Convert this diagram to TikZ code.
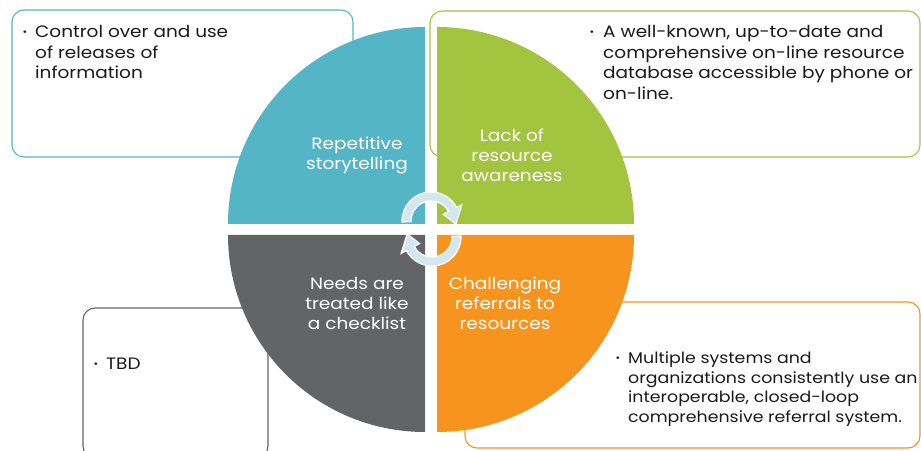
\documentclass[tikz,border=0pt]{standalone}
\usepackage{fontspec}
\setmainfont{Poppins}[FakeStretch=1.12]
\definecolor{cteal}{HTML}{54B5C6}
\definecolor{cgreen}{HTML}{A2C43E}
\definecolor{corange}{HTML}{F7941D}
\definecolor{cgray}{HTML}{636466}
\definecolor{carrow}{HTML}{D5E7EE}
\definecolor{txt}{HTML}{1A1A1A}
\begin{document}
\begin{tikzpicture}[x=1pt,y=1pt,
  cbox/.style={rounded corners=12pt, line width=1.1pt, fill=white},
  boxtext/.style={anchor=north west, inner sep=0pt, align=left, text=txt, font=\fontsize{16.5}{20.5}\selectfont},
  bul/.style={inner sep=0pt, text=txt, font=\fontsize{10}{10}\selectfont},
  qlabel/.style={align=center, text=white, inner sep=0pt, font=\fontsize{16.5}{20}\selectfont},
  circarrow/.style={fill=carrow, draw=white, line width=1.2pt, line join=miter}
]
\useasboundingbox (0,0) rectangle (921,450);
% outline boxes
\draw[cbox, draw=cteal] (12,293) rectangle (353,440);
\draw[cbox, draw=cgreen] (430,293) rectangle (920,439);
\draw[cbox, draw=corange] (465,2) rectangle (920,148);
\draw[cbox, draw=cgray] (83,-8) rectangle (268,142);
% quadrants
\fill[cteal] (425,226) -- (228,226) arc[start angle=180, end angle=90, radius=197] -- cycle;
\fill[cgreen] (437,226) -- (437,423) arc[start angle=90, end angle=0, radius=197] -- cycle;
\fill[cgray] (425,215) -- (425,18) arc[start angle=270, end angle=180, radius=197] -- cycle;
\fill[corange] (437,215) -- (634,215) arc[start angle=0, end angle=-90, radius=197] -- cycle;
% circular arrows
\begin{scope}[shift={(431,229)}]
\path[circarrow] (182:29) arc[start angle=182, end angle=28, radius=29] -- (28:35) -- (-7:25) -- (28:14) -- (28:20) arc[start angle=28, end angle=182, radius=20] -- cycle;
\end{scope}
\begin{scope}[shift={(432,213)}, rotate=180]
\path[circarrow] (182:29) arc[start angle=182, end angle=28, radius=29] -- (28:35) -- (-7:25) -- (28:14) -- (28:20) arc[start angle=28, end angle=182, radius=20] -- cycle;
\end{scope}
% quadrant labels
\node[qlabel] (q1) at (357,295) {Repetitive\\storytelling};
\node[qlabel] (q2) at (512,294.5) {Lack of\\resource\\awareness};
\node[qlabel] (q3) at (357,146.5) {Needs are\\treated like\\a checklist};
\node[qlabel] (q4) at (505,146.5) {Challenging\\referrals to\\resources};
% box texts
\node[bul] (b1) at (25,417) {•};
\node[boxtext] (t1) at (35,424.5) {Control over and use\\of releases of\\information};
\node[bul] (b2) at (592,417) {•};
\node[boxtext] (t2) at (603,424.5) {A well-known, up-to-date and\\comprehensive on-line resource\\database accessible by phone or\\on-line.};
\node[bul] (b3) at (618,90.5) {•};
\node[boxtext, font=\fontsize{15.5}{19.5}\selectfont] (t3) at (628,98) {Multiple systems and\\organizations consistently use an\\interoperable, closed-loop\\comprehensive referral system.};
\node[bul] (b4) at (96,85) {•};
\node[boxtext] (t4) at (106,92.5) {TBD};
\end{tikzpicture}
\end{document}
